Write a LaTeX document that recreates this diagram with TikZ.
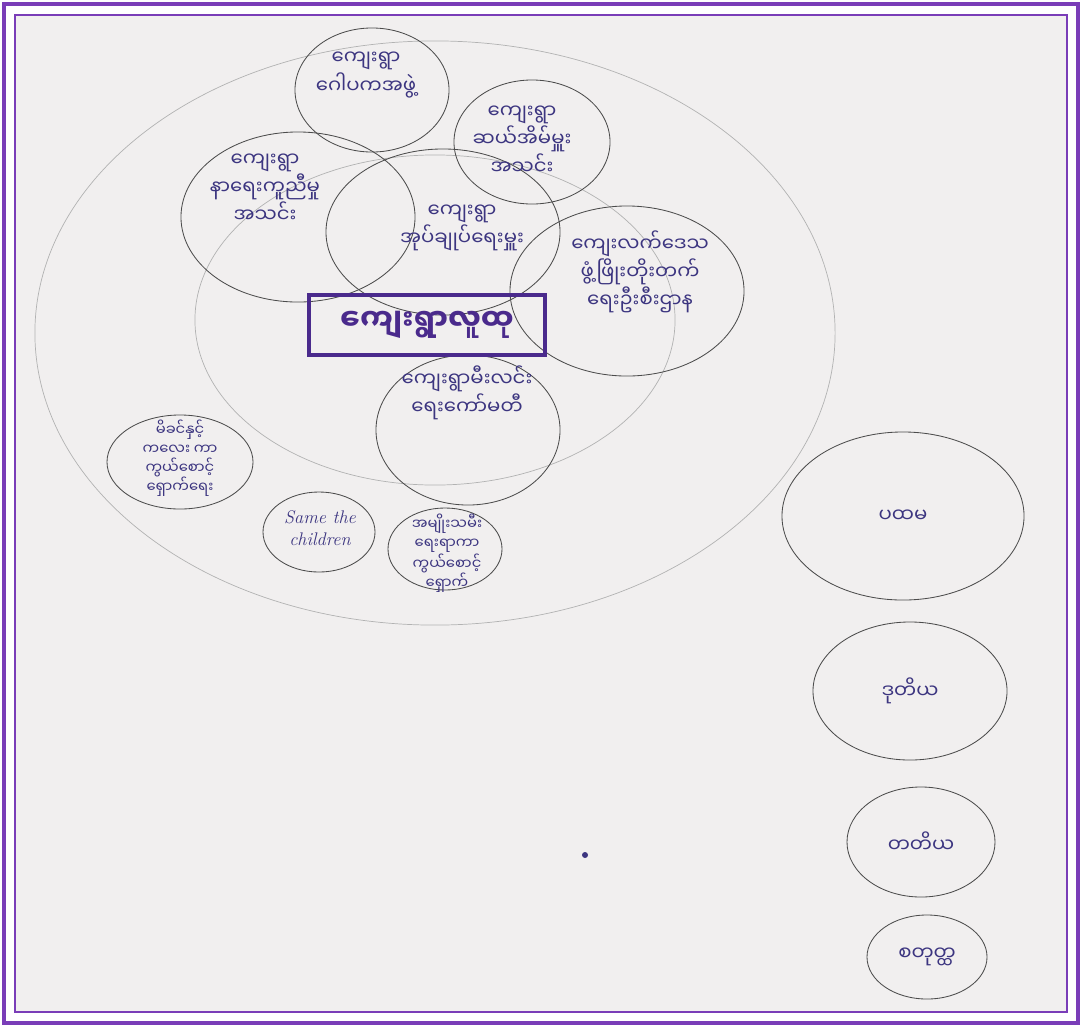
\documentclass[tikz,border=0pt]{standalone}
\usepackage{fontspec}
\usepackage{xcolor}
\usepackage{tikz}
\usetikzlibrary{shapes.geometric}
\newfontfamily\mmfont[Script=Myanmar]{Noto Sans Myanmar UI}
\definecolor{ink}{HTML}{3C3580}
\definecolor{boxink}{HTML}{4A2A8C}
\definecolor{frame}{HTML}{7A3DB8}
\definecolor{paper}{HTML}{F1EFEF}

\begin{document}
\begin{tikzpicture}[x=0.025cm,y=-0.025cm,
    ring/.style={shape=ellipse, draw=black!70, line width=0.6pt, inner sep=0pt},
    halo/.style={shape=ellipse, draw=black!30, line width=0.5pt, inner sep=0pt},
    say/.style={align=center, text=ink, font=\mmfont\fontsize{14}{20}\selectfont},
    tiny/.style={align=center, text=ink, font=\mmfont\fontsize{10.5}{13.5}\selectfont}]
    \fill[white] (0,0) rectangle (1082,1027);
    \useasboundingbox (0,0) rectangle (1082,1027);
    \fill[paper] (15,15) rectangle (1067,1012);
    \draw[frame, line width=2.8pt] (4,4) rectangle (1078,1023);
    \draw[frame, line width=2pt] (15,15) rectangle (1067,1012);
    \node[halo, minimum width=20cm, minimum height=14.6cm] (outerring) at (435,333) {};
    \node[halo, minimum width=12cm, minimum height=8.25cm] (innerring) at (435,320) {};
    \node[ring, minimum width=3.85cm, minimum height=3.1cm] (gopaka) at (372,90) {};
    \node[ring, minimum width=3.9cm, minimum height=3.1cm] (tenhouse) at (532,142) {};
    \node[ring, minimum width=5.85cm, minimum height=4.25cm] (funeral) at (298,217) {};
    \node[ring, minimum width=5.85cm, minimum height=4.15cm] (admin) at (443,232) {};
    \node[ring, minimum width=5.85cm, minimum height=4.25cm] (rural) at (627,291) {};
    \node[ring, minimum width=4.6cm, minimum height=3.75cm] (power) at (468,430) {};
    \node[ring, minimum width=3.65cm, minimum height=2.35cm] (mother) at (180,462) {};
    \node[ring, minimum width=2.8cm, minimum height=2cm] (save) at (319,532) {};
    \node[ring, minimum width=2.85cm, minimum height=2.05cm] (women) at (445,549) {};
    \node[say] (gopakatxt) at (366,75) {ကျေးရွာ\\ဂေါပကအဖွဲ့};
    \node[say] (tenhousetxt) at (522,140) {ကျေးရွာ\\ဆယ်အိမ်မှူး\\အသင်း};
    \node[say] (funeraltxt) at (265,188) {ကျေးရွာ\\နာရေးကူညီမှု\\အသင်း};
    \node[say] (admintxt) at (462,228) {ကျေးရွာ\\အုပ်ချုပ်ရေးမှူး};
    \node[say] (ruraltxt) at (640,272) {ကျေးလက်ဒေသ\\ဖွံ့ဖြိုးတိုးတက်\\ရေးဦးစီးဌာန};
    \node[say] (powertxt) at (467,393) {ကျေးရွာမီးလင်း\\ရေးကော်မတီ};
    \node[tiny] (mothertxt) at (180,458) {မိခင်နှင့်\\ကလေး ကာ\\ကွယ်စောင့်\\ရှောက်ရေး};
    \node[align=center, text=ink, font=\itshape\fontsize{13}{16}\selectfont] (savetxt) at (320,528) {Same the\\children};
    \node[tiny] (womentxt) at (447,553) {အမျိုးသမီး\\ရေးရာကာ\\ကွယ်စောင့်\\ရှောက်};
    \node[draw=boxink, line width=2.6pt, minimum width=5.9cm, minimum height=1.5cm,
      text=boxink, font=\mmfont\bfseries\fontsize{21}{24}\selectfont] (community) at (427,325) {ကျေးရွာလူထု};
    \node[ring, say, minimum width=6.05cm, minimum height=4.2cm] (first) at (903,516) {ပထမ};
    \node[ring, say, minimum width=4.85cm, minimum height=3.45cm] (second) at (910,691) {ဒုတိယ};
    \node[ring, say, minimum width=3.7cm, minimum height=2.75cm] (third) at (921,842) {တတိယ};
    \node[ring, say, minimum width=3cm, minimum height=2.1cm] (fourth) at (927,957) {စတုတ္ထ};
    \fill[ink] (585,855) circle (3);
\end{tikzpicture}
\end{document}
